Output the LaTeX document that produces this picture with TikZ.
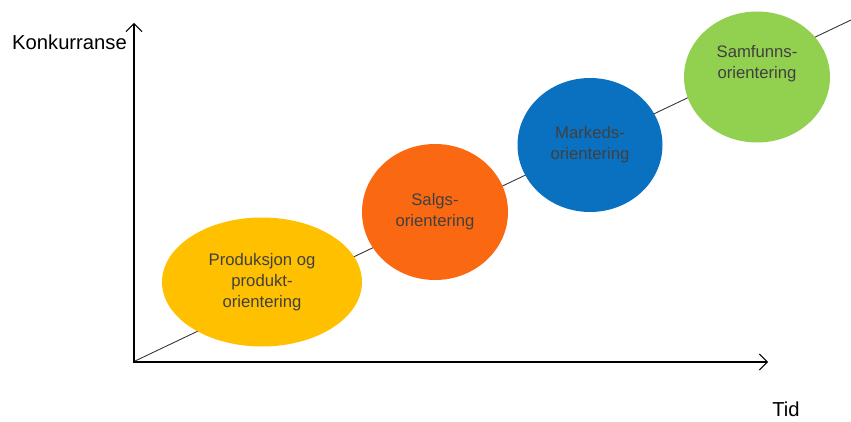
\documentclass[tikz,border=0pt]{standalone}
\usepackage{fontspec}
\setmainfont{Liberation Sans}
\usepackage{xcolor}
\usetikzlibrary{arrows.meta,positioning,shapes.geometric}
\definecolor{prodyellow}{HTML}{FFC000}
\definecolor{salgorange}{HTML}{FA6811}
\definecolor{markblue}{HTML}{0A70C0}
\definecolor{samgreen}{HTML}{92D050}
\tikzset{%
	phase/.style  = {ellipse, inner sep=0pt, text=black!75, align=center, font=\fontsize{9.5}{12}\selectfont},
	axis/.style   = {line width=0.6pt, -{Straight Barb[length=4.5pt,width=9pt]}},
	trend/.style  = {line width=0.5pt, black!80},
	label/.style  = {font=\fontsize{11.5}{13}\selectfont},
}
\begin{document}
\begin{tikzpicture}
	\useasboundingbox (0,0) rectangle (17.02,8.42);
	\coordinate (o) at (2.66,1.18);
	\coordinate (ytop) at (2.68,7.96);
	\coordinate (xend) at (15.36,1.18);
	\coordinate (tend) at (17.02,8.02);
	% trend line behind the phases
	\draw[trend] (o) -- (tend);
	\node[phase, fill=prodyellow, minimum width=4.0cm, minimum height=2.58cm] (prod) at (5.24,2.78) {Produksjon og\\produkt-\\orientering};
	\node[phase, fill=salgorange, minimum width=2.92cm, minimum height=2.72cm] (salg) at (8.70,4.18) {Salgs-\\orientering};
	\node[phase, fill=markblue, minimum width=2.90cm, minimum height=2.68cm] (mark) at (11.80,5.52) {Markeds-\\orientering};
	\node[phase, fill=samgreen, minimum width=2.92cm, minimum height=2.62cm] (sam) at (15.14,6.88) {Samfunns-\\orientering\\[0.5em]};
	% axes
	\draw[axis] (o -| ytop) -- (ytop);
	\draw[axis] (o) -- (xend);
	\node[label, anchor=east] (konk) at (2.66,7.58) {Konkurranse};
	\node[label] (tid) at (15.72,0.24) {Tid};
\end{tikzpicture}
\end{document}
